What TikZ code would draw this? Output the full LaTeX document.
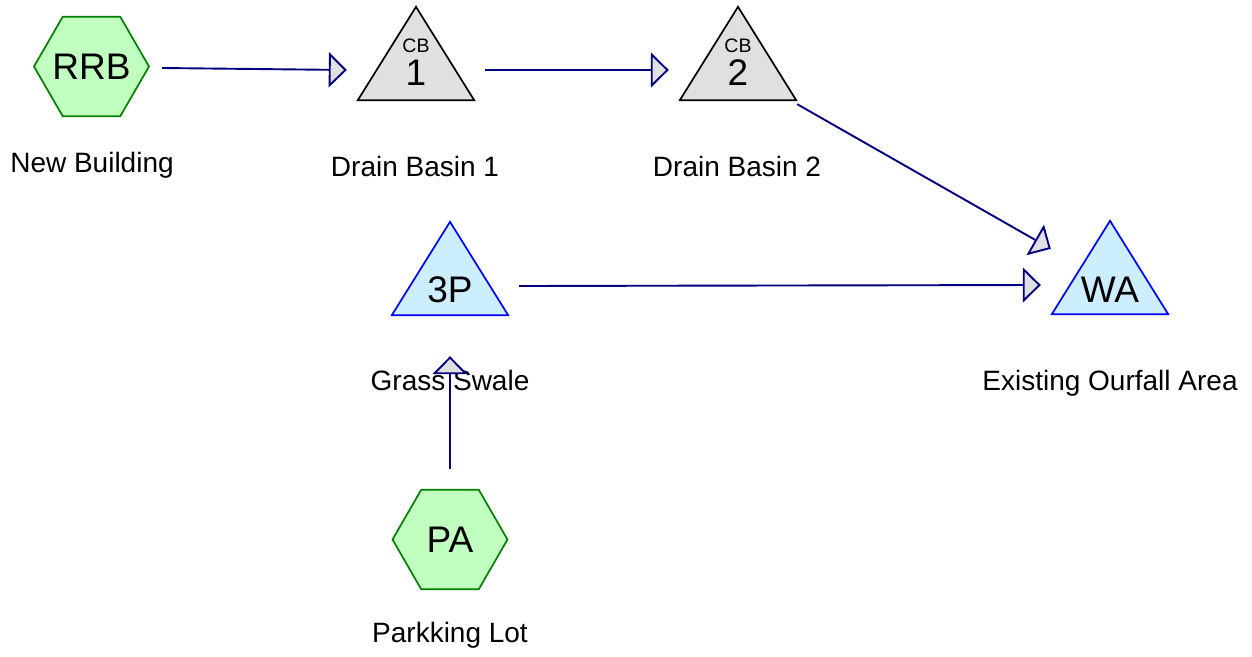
\documentclass[tikz,border=0pt]{standalone}
\usepackage{fontspec}
\setmainfont{Liberation Sans}
\usetikzlibrary{arrows.meta,shapes.geometric,calc}
\definecolor{hexfill}{RGB}{192,255,192}
\definecolor{hexdraw}{RGB}{0,128,0}
\definecolor{grayfill}{RGB}{224,224,224}
\definecolor{bluefill}{RGB}{204,238,255}
\definecolor{bluedraw}{RGB}{0,0,255}
\definecolor{navyline}{RGB}{0,0,128}
\definecolor{tipfill}{RGB}{224,224,224}
\tikzset{
  hexnode/.style={regular polygon, regular polygon sides=6, minimum size=115pt, inner sep=0pt,
    fill=hexfill, draw=hexdraw, line width=1.7pt},
  hextext/.style={font=\fontsize{37}{40}\selectfont, inner sep=0pt},
  tribox/.style={rectangle, minimum width=116pt, minimum height=93pt, inner sep=0pt},
  trigray/.style={fill=grayfill, draw=black, line width=1.7pt, line join=miter},
  triblue/.style={fill=bluefill, draw=bluedraw, line width=1.7pt, line join=miter},
  bigtext/.style={anchor=base, inner sep=0pt, font=\fontsize{37}{40}\selectfont},
  smalltext/.style={anchor=base, inner sep=0pt, font=\fontsize{19.5}{22}\selectfont},
  labeltext/.style={anchor=base, inner sep=0pt, font=\fontsize{28}{32}\selectfont},
  conn/.style={draw=navyline, line width=1.9pt, -{Triangle[length=18pt,width=35pt,fill=tipfill]}}
}
\begin{document}
\begin{tikzpicture}[x=1pt,y=-1pt]
\useasboundingbox (0,0) rectangle (1252,656);

% hexagons
\node[hexnode] (rrb) at (91.5,66.5) {};
\node[hexnode] (pa) at (450,539.5) {};
\node[hextext] (rrbt) at (rrb.center) {RRB};
\node[hextext] (pat) at (pa.center) {PA};

% triangle boxes
\node[tribox] (cb1) at (416,53.5) {};
\node[tribox] (cb2) at (738,53.5) {};
\node[tribox] (p3) at (450,268.5) {};
\node[tribox] (wa) at (1110,267.5) {};

\draw[trigray] (cb1.north) -- (cb1.south east) -- (cb1.south west) -- cycle;
\draw[trigray] (cb2.north) -- (cb2.south east) -- (cb2.south west) -- cycle;
\draw[triblue] (p3.north) -- (p3.south east) -- (p3.south west) -- cycle;
\draw[triblue] (wa.north) -- (wa.south east) -- (wa.south west) -- cycle;

% texts in triangles
\node[smalltext] (cb1a) at ($(cb1.south)+(0,-48)$) {CB};
\node[bigtext] (cb1b) at ($(cb1.south)+(0,-15)$) {1};
\node[smalltext] (cb2a) at ($(cb2.south)+(0,-48)$) {CB};
\node[bigtext] (cb2b) at ($(cb2.south)+(0,-15)$) {2};
\node[bigtext] (p3t) at ($(p3.south)+(0,-13)$) {3P};
\node[bigtext] (wat) at ($(wa.south)+(0,-12)$) {WA};

% labels
\node[labeltext] (l1) at (92,172) {New Building};
\node[labeltext] (l2) at (415,176) {Drain Basin 1};
\node[labeltext] (l3) at (737,176) {Drain Basin 2};
\node[labeltext] (l5) at (1110,390) {Existing Ourfall Area};
\node[labeltext] (l6) at (450,642) {Parkking Lot};
\node[labeltext] (l4) at (450,390) {Grass Swale};

% connectors
\draw[conn] ($(rrb.east)+(12,1.5)$) -- ($(cb1.west)+(-11,16.5)$);
\draw[conn] ($(cb1.east)+(11,16.5)$) -- ($(cb2.west)+(-11,16.5)$);
\draw[conn] ($(cb2.south east)+(1,4)$) -- ($(wa.north west)+(-1,28)$);
\draw[conn] ($(p3.east)+(11,17.5)$) -- ($(wa.west)+(-11,17.5)$);
\draw[conn] ($(pa.north)+(0,-19.7)$) -- ($(p3.south)+(0,41)$);
\end{tikzpicture}
\end{document}
